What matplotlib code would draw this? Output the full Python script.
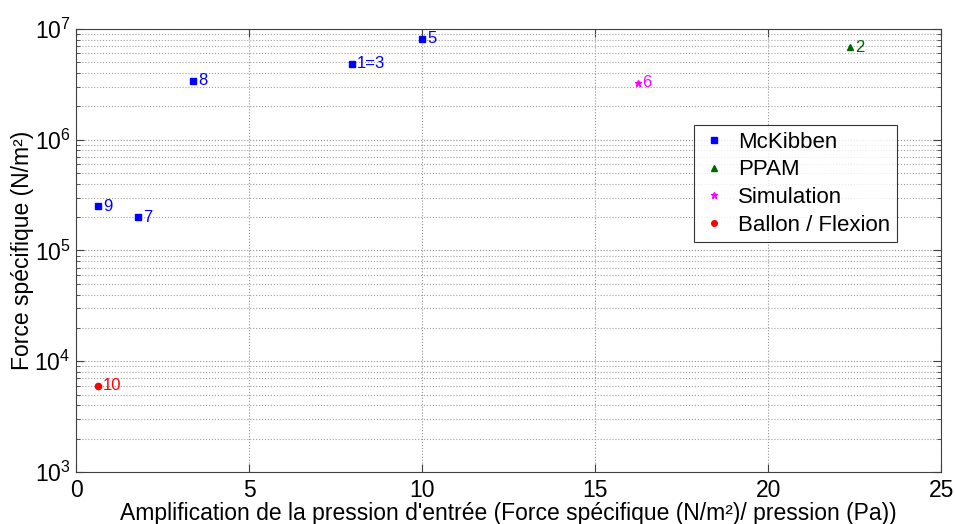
import numpy as np
import matplotlib as mpl
mpl.use("Agg")
import matplotlib.pyplot as plt
from matplotlib.ticker import LogLocator, NullFormatter

mpl.rcParams.update({
    "font.family": ["Liberation Sans", "DejaVu Sans"],
    "mathtext.default": "regular",
    "xtick.direction": "in",
    "ytick.direction": "in",
})

# data
mck_x = [7.96, 10.0, 1.80, 3.38, 0.64]
mck_y = [4.85e6, 8.1e6, 2.0e5, 3.4e6, 2.5e5]
mck_lbl = ['1=3', '5', '7', '8', '9']

ppam_x = [22.37]
ppam_y = [6.8e6]
ppam_lbl = ['2']

sim_x = [16.23]
sim_y = [3.25e6]
sim_lbl = ['6']

bal_x = [0.63]
bal_y = [6.0e3]
bal_lbl = ['10']

series = [
    ('McKibben', mck_x, mck_y, mck_lbl, '#0000FF', 's', 5),
    ('PPAM', ppam_x, ppam_y, ppam_lbl, '#006400', '^', 5),
    ('Simulation', sim_x, sim_y, sim_lbl, '#FF00FF', '*', 5),
    ('Ballon / Flexion', bal_x, bal_y, bal_lbl, '#FF0000', 'o', 4.5),
]

fig = plt.figure(figsize=(9.55, 5.24), dpi=100)
ax = fig.add_axes([0.0796, 0.099, 0.906, 0.846])

for name, xs, ys, lbls, col, mk, ms in series:
    ax.plot(xs, ys, linestyle='none', marker=mk, color=col, markersize=ms,
            label=name)
    for x, y, t in zip(xs, ys, lbls):
        ax.annotate(t, (x, y), xytext=(3.5, 0), textcoords='offset points',
                    color=col, fontsize=12, va='center', ha='left')

ax.set_yscale('log')
ax.set_xlim(0, 25)
ax.set_ylim(1e3, 1e7)
ax.set_xticks([0, 5, 10, 15, 20, 25])
ax.yaxis.set_major_locator(LogLocator(base=10, numticks=10))
ax.yaxis.set_minor_locator(LogLocator(base=10, subs=np.arange(2, 10), numticks=20))
ax.yaxis.set_minor_formatter(NullFormatter())
ax.tick_params(which='both', top=True, right=True, labelsize=16.5, color='#404040')
ax.tick_params(which='major', length=6)
ax.tick_params(which='minor', length=3)
ax.tick_params(axis='x', pad=5)
ax.tick_params(axis='y', pad=4)

ax.grid(True, which='major', axis='both', linestyle=':', color='#909090', linewidth=0.8)
ax.grid(True, which='minor', axis='y', linestyle=':', color='#a0a0a0', linewidth=0.8)
for sp in ax.spines.values():
    sp.set_color('#404040')

ax.set_xlabel("Amplification de la pression d'entrée (Force spécifique (N/m²)/ pression (Pa))",
              fontsize=16.5, labelpad=0)
ax.set_ylabel("Force spécifique (N/m²)", fontsize=16.5, labelpad=0)

leg = ax.legend(loc='upper left', bbox_to_anchor=(0.714, 0.783), fontsize=16,
                frameon=True, fancybox=False, edgecolor='black',
                handlelength=1.2, handletextpad=0.5, borderpad=0.3,
                labelspacing=0.3, markerscale=0.9, borderaxespad=0)
leg.get_frame().set_linewidth(0.8)

fig.savefig('out.png', dpi=100)
